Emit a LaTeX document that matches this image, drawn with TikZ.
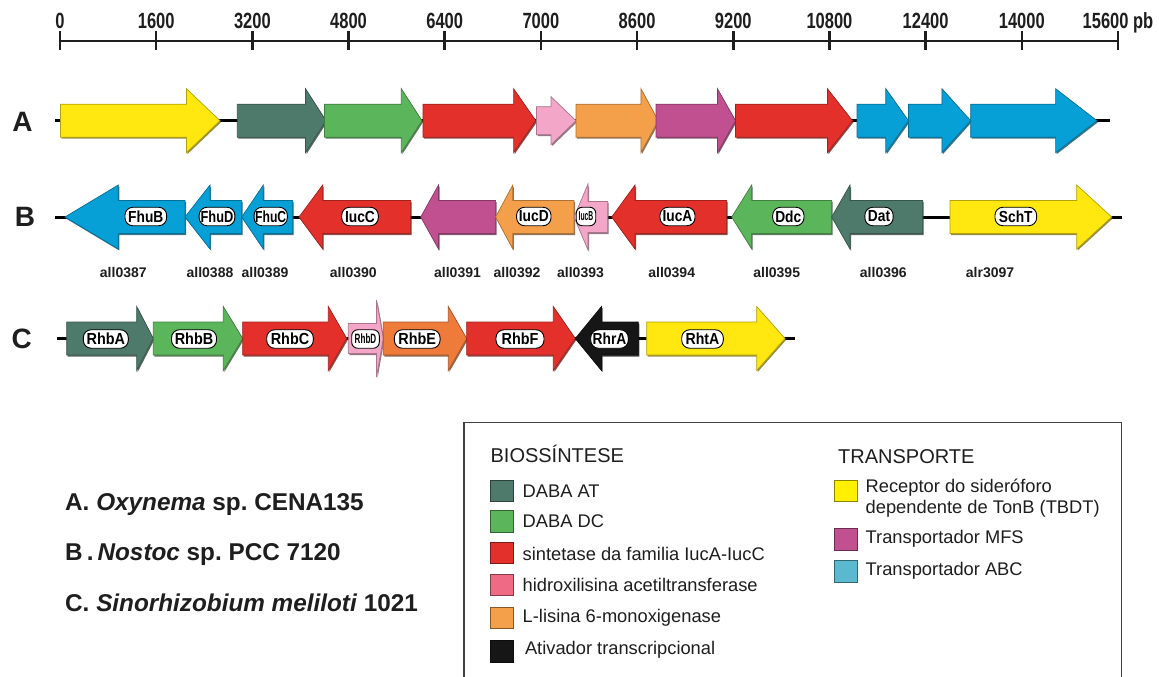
\documentclass[tikz,border=0pt]{standalone}
\usepackage{fontspec}
\setmainfont{Liberation Sans}
\usepackage{graphicx}
\frenchspacing

% gene colours
\definecolor{cYel}{HTML}{FFE70F}
\definecolor{cTeal}{HTML}{4E7A6B}
\definecolor{cGrn}{HTML}{5BB55A}
\definecolor{cRed}{HTML}{E3302A}
\definecolor{cPnk}{HTML}{F4A6C8}
\definecolor{cOrg}{HTML}{F4A04B}
\definecolor{cOrgC}{HTML}{EE7B3A}
\definecolor{cMag}{HTML}{C0508F}
\definecolor{cBlu}{HTML}{069FD6}
\definecolor{cBlk}{HTML}{161616}
% legend swatch colours
\definecolor{lYel}{HTML}{FFF000}
\definecolor{lPnk}{HTML}{EE6A85}
\definecolor{lBlu}{HTML}{5BB9CF}
\definecolor{ink}{HTML}{1E1E1E}

% horizontally condensed text
\newcommand\cnd[2][0.75]{\scalebox{#1}[1]{#2}}

% gene arrow: tail x, head-base x, tip x, centre y, body half-height, head half-height, colour
\newcommand\gene[7]{%
  \fill[#7!45!black,opacity=0.75,shift={(1,1.5)}]
    (#1,#4-#5) -- (#2,#4-#5) -- (#2,#4-#6) -- (#3,#4) -- (#2,#4+#6) -- (#2,#4+#5) -- (#1,#4+#5) -- cycle;
  \filldraw[fill=#7,draw=#7!70!black,line width=0.7,line join=miter]
    (#1,#4-#5) -- (#2,#4-#5) -- (#2,#4-#6) -- (#3,#4) -- (#2,#4+#6) -- (#2,#4+#5) -- (#1,#4+#5) -- cycle;
}

\tikzset{
  backbone/.style={line width=3,color=black},
  sclab/.style={anchor=base,inner sep=0pt,text=ink,font=\fontsize{22}{22}\selectfont\bfseries},
  rowlab/.style={inner sep=0pt,text=ink,font=\fontsize{28}{28}\selectfont\bfseries},
  tag/.style={draw=black,fill=white,rounded corners=8,line width=0.9,minimum height=18.5,
              minimum width=#1,inner sep=0pt,font=\fontsize{16}{16}\selectfont\bfseries},
  locus/.style={inner sep=0pt,text=ink,font=\fontsize{14}{14}\selectfont\bfseries},
  orglab/.style={anchor=base west,inner sep=0pt,text=ink,font=\fontsize{24.3}{25}\selectfont\bfseries},
  leghead/.style={anchor=base west,inner sep=0pt,text=ink,font=\fontsize{20}{20}\selectfont},
  legtext/.style={anchor=west,inner sep=0pt,text=ink,align=left,font=\fontsize{18.3}{21}\selectfont},
  swatch/.style={fill=#1,draw=#1!55!black,line width=0.7},
}

\begin{document}
\begin{tikzpicture}[x=1pt,y=-1pt]
\useasboundingbox (0,0) rectangle (1159,677);
\fill[white] (0,0) rectangle (1159,677);

% ---------- scale bar ----------
\draw[line width=2.6,color=ink] (60,41) -- (1118,41);
\foreach \i/\lab in {0/0,1/1600,2/3200,3/4800,4/6400,5/7000,6/8600,7/9200,8/10800,9/12400,10/14000,11/15600 pb}{
  \draw[line width=2.6,color=ink] (60+96.18*\i,31.5) -- (60+96.18*\i,50.5);
  \node[sclab] (tick\i) at (60+96.18*\i,28.3) {\cnd{\lab}};
}

% ---------- row A : Oxynema ----------
\node[rowlab] (rowA) at (22.5,122) {A};
\draw[backbone] (55,120.7) -- (1110,120.7);
\gene{60.5}{186.4}{220}{120.7}{16.5}{32}{cYel}
\gene{237.3}{305.5}{326}{120.7}{16.5}{32}{cTeal}
\gene{324.5}{401.3}{422}{120.7}{16.5}{32}{cGrn}
\gene{423}{513.6}{535.8}{120.7}{16.5}{32}{cRed}
\gene{536.5}{551}{576}{120.7}{14}{24}{cPnk}
\gene{576}{640.9}{658.3}{120.7}{16.5}{32}{cOrg}
\gene{656}{717.4}{735.5}{120.7}{16.5}{32}{cMag}
\gene{735.5}{827.4}{852.5}{120.7}{16.5}{32}{cRed}
\gene{857}{885.8}{908.5}{120.7}{16.5}{32}{cBlu}
\gene{908.5}{941.9}{970.7}{120.7}{16.5}{32}{cBlu}
\gene{970.7}{1055.6}{1097}{120.7}{16.5}{32}{cBlu}

% ---------- row B : Nostoc ----------
\node[rowlab] (rowB) at (25,217) {B};
\draw[backbone] (55,217) -- (1121.7,217);
\gene{185}{118.3}{65}{217}{16.5}{32}{cBlu}
\gene{241.7}{210}{185}{217}{16.5}{32}{cBlu}
\gene{292.7}{263.3}{241.7}{217}{16.5}{32}{cBlu}
\gene{410.7}{322.7}{299}{217}{16.5}{32}{cRed}
\gene{495.6}{438.5}{420.7}{217}{16.5}{32}{cMag}
\gene{574}{512.8}{495.6}{217}{16.5}{32}{cOrg}
\gene{607.7}{588}{574}{217}{15.5}{33}{cPnk}
\gene{726.7}{635}{611.7}{217}{16.5}{32}{cRed}
\gene{831.7}{751.7}{731.7}{217}{16.5}{32}{cGrn}
\gene{922.7}{850}{831.7}{217}{16.5}{32}{cTeal}
\gene{950}{1076.7}{1111.7}{217}{16.5}{32}{cYel}

\node[tag=41.7] (fhuB) at (145.8,216.5) {\cnd[0.86]{FhuB}};
\node[tag=35.7] (fhuD) at (217,216.5) {\cnd[0.8]{FhuD}};
\node[tag=33.3] (fhuC) at (270.7,216.5) {\cnd[0.76]{FhuC}};
\node[tag=36.6] (iucC) at (360,216.5) {\cnd[0.86]{IucC}};
\node[tag=34.4] (iucD) at (533.8,216.5) {\cnd[0.86]{IucD}};
\node[tag=19.5,rounded corners=6] (iucB) at (586,216.5) {\fontsize{13}{13}\selectfont\cnd[0.52]{IucB}};
\node[tag=35] (iucA) at (677.5,216.5) {\cnd[0.86]{IucA}};
\node[tag=31.3] (ddc) at (788.3,216.5) {\cnd[0.86]{Ddc}};
\node[tag=28.3] (dat) at (879,216.5) {\cnd[0.86]{Dat}};
\node[tag=41.7] (schT) at (1015.8,216.5) {\cnd[0.86]{SchT}};

\node[locus] (l387) at (123.3,272.5) {all0387};
\node[locus] (l388) at (210,272.5) {all0388};
\node[locus] (l389) at (265,272.5) {all0389};
\node[locus] (l390) at (353.3,272.5) {all0390};
\node[locus] (l391) at (457.5,272.5) {all0391};
\node[locus] (l392) at (517,272.5) {all0392};
\node[locus] (l393) at (580.5,272.5) {all0393};
\node[locus] (l394) at (671.7,272.5) {all0394};
\node[locus] (l395) at (776.7,272.5) {all0395};
\node[locus] (l396) at (883.3,272.5) {all0396};
\node[locus] (l3097) at (990,272.5) {alr3097};

% ---------- row C : Sinorhizobium ----------
\node[rowlab] (rowC) at (21.7,339) {C};
\draw[backbone] (56.7,338.5) -- (795,338.5);
\gene{66.7}{136.7}{153.3}{338.5}{16.5}{32}{cTeal}
\gene{153.3}{223.3}{242.7}{338.5}{16.5}{32}{cGrn}
\gene{242.7}{328.3}{346.7}{338.5}{16.5}{32}{cRed}
\gene{348.3}{376.5}{383.3}{338.5}{15}{38.5}{cPnk}
\gene{383.3}{448.3}{466.7}{338.5}{16.5}{32}{cOrgC}
\gene{466.7}{553.3}{575.3}{338.5}{16.5}{32}{cRed}
\gene{638.3}{601.5}{575.3}{338.5}{16.5}{32}{cBlk}
\gene{646.7}{756.7}{785}{338.5}{16.5}{32}{cYel}

\node[tag=45] (rhbA) at (105.8,339) {\cnd[0.9]{RhbA}};
\node[tag=45] (rhbB) at (194,339) {\cnd[0.9]{RhbB}};
\node[tag=46.6] (rhbC) at (290,339) {\cnd[0.9]{RhbC}};
\node[tag=27.6,rounded corners=6] (rhbD) at (365.5,339) {\fontsize{13.5}{13.5}\selectfont\cnd[0.6]{RhbD}};
\node[tag=45.7] (rhbE) at (417.2,339) {\cnd[0.9]{RhbE}};
\node[tag=48] (rhbF) at (520,339) {\cnd[0.9]{RhbF}};
\node[tag=37.6] (rhrA) at (609.5,339) {\cnd[0.86]{RhrA}};
\node[tag=41.6] (rhtA) at (702.5,339) {\cnd[0.88]{RhtA}};

% ---------- organisms ----------
\node[orglab] (orgA) at (65,510.5) {A. \textit{Oxynema} sp. CENA135};
\node[orglab] (orgB) at (65,560.5) {B\,.\,\textit{Nostoc} sp. PCC 7120};
\node[orglab] (orgC) at (65,611) {C. \textit{Sinorhizobium meliloti} 1021};

% ---------- legend ----------
\draw[line width=1.2,color=black!75] (464,690) -- (464,422.7) -- (1121.8,422.7) -- (1121.8,690);
\node[leghead] (hBio) at (490.4,462.7) {BIOSSÍNTESE};
\node[leghead] (hTra) at (838,463.3) {TRANSPORTE};

\draw[swatch=cTeal] (490.4,480) rectangle (513.4,501.7);
\node[legtext] (kAT) at (522.5,490.7) {DABA AT};
\draw[swatch=cGrn] (490.4,510.5) rectangle (513.4,532.2);
\node[legtext] (kDC) at (522.5,521.5) {DABA DC};
\draw[swatch=cRed] (490.4,542) rectangle (513.4,563.7);
\node[legtext] (kSyn) at (522.5,553.5) {sintetase da familia IucA-IucC};
\draw[swatch=lPnk] (490.4,574) rectangle (513.4,595.7);
\node[legtext] (kHyd) at (522.5,585) {hidroxilisina acetiltransferase};
\draw[swatch=cOrg] (490.4,607) rectangle (513.4,628.7);
\node[legtext] (kLys) at (522.5,618) {L-lisina 6-monoxigenase};
\draw[swatch=cBlk] (490.4,640.7) rectangle (513.4,662.4);
\node[legtext] (kAct) at (524.8,650) {Ativador transcripcional};

\draw[swatch=lYel] (834.3,480) rectangle (857.2,501.7);
\node[legtext] (kRec) at (865.5,497.8) {Receptor do sideróforo\\dependente de TonB (TBDT)};
\draw[swatch=cMag] (834.3,528.3) rectangle (857.2,550);
\node[legtext] (kMFS) at (865.5,538.5) {Transportador MFS};
\draw[swatch=lBlu] (834.3,560.7) rectangle (857.2,582.4);
\node[legtext] (kABC) at (865.5,570.7) {Transportador ABC};
\end{tikzpicture}
\end{document}
